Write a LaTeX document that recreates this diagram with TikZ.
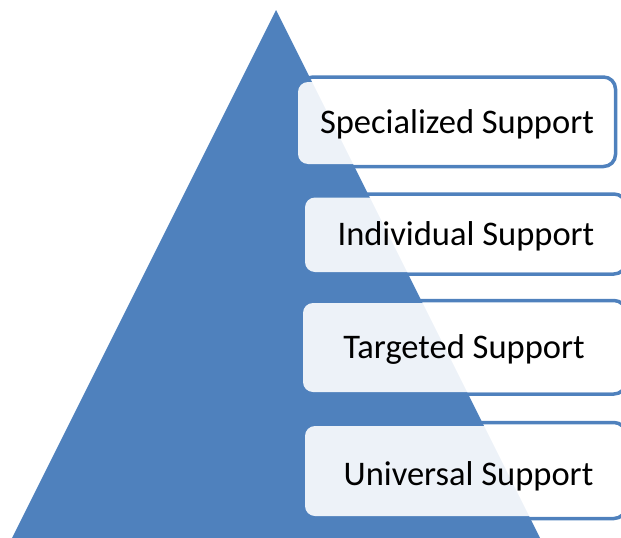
\documentclass[tikz,border=0pt]{standalone}
\usepackage{fontspec}
\setmainfont{Carlito}
\definecolor{triblue}{HTML}{4F81BD}
\tikzset{
  tri/.style={fill=triblue},
  outl/.style={draw=triblue, line width=3.5pt, rounded corners=12pt},
  boxfill/.style={fill=white, fill opacity=0.9, rounded corners=10pt},
  lbl/.style={anchor=base, inner sep=0pt, font=\fontsize{34.5}{40}\selectfont, text=black}
}
\begin{document}
\begin{tikzpicture}[x=1pt,y=-1pt]
\useasboundingbox (0,0) rectangle (621,538);
\clip (0,0) rectangle (621,538);
\fill[tri] (276,10) -- (552,562) -- (0,562) -- cycle;
% box 1
\draw[outl] (301,77) rectangle (615.5,166.5);
\fill[boxfill] (298,82) rectangle (613,164);
\node[lbl] (t1) at (457,133) {Specialized Support};
% box 2
\draw[outl] (308,194) rectangle (626,274);
\fill[boxfill] (305,197.5) rectangle (623,272);
\node[lbl] (t2) at (466,245) {Individual Support};
% box 3
\draw[outl] (306,300.5) rectangle (626,394);
\fill[boxfill] (303,303) rectangle (623,392);
\node[lbl] (t3) at (464,358) {Targeted Support};
% box 4
\draw[outl] (308,422.5) rectangle (626,518.5);
\fill[boxfill] (305,426) rectangle (623,516);
\node[lbl] (t4) at (468.5,485) {Universal Support};
\end{tikzpicture}
\end{document}
